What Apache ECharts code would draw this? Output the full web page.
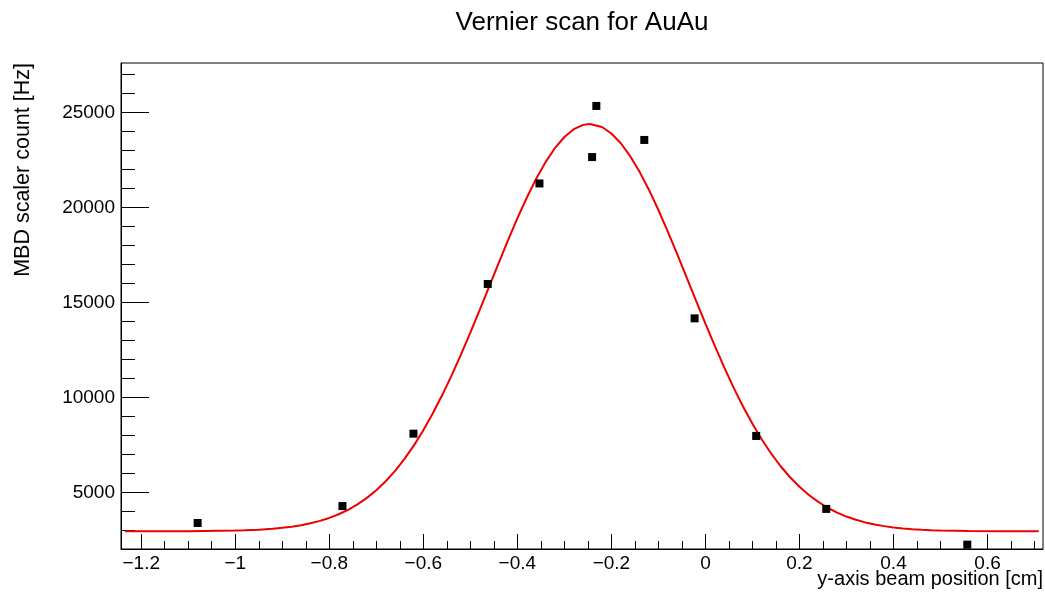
<!DOCTYPE html>
<html>
<head>
<meta charset="utf-8">
<script src="https://cdn.jsdelivr.net/npm/echarts@6/dist/echarts.min.js"></script>
<style>
html,body{margin:0;padding:0;background:#fff;}
#chart{width:1045px;height:593px;}
</style>
</head>
<body>
<div id="chart"></div>
<script>
// ---- data ----
const chartTitle = 'Vernier scan for AuAu';
const xTitle = 'y-axis beam position [cm]';
const yTitle = 'MBD scaler count [Hz]';

const scanX = [-1.080, -0.772, -0.621, -0.463, -0.353, -0.241, -0.232, -0.130, -0.023, 0.108, 0.257, 0.557];
const scanY = [3390, 4280, 8090, 15970, 21260, 22650, 25340, 23550, 14160, 7970, 4130, 2250];

// fitted curve
const fitX = [-1.234, -1.10, -1.00, -0.98, -0.95, -0.92, -0.90, -0.88, -0.86, -0.84, -0.82, -0.80, -0.78, -0.76, -0.74, -0.72, -0.70, -0.68, -0.66, -0.64, -0.62, -0.60, -0.58, -0.56, -0.54, -0.52, -0.50, -0.48, -0.46, -0.44, -0.42, -0.40, -0.38, -0.36, -0.34, -0.32, -0.30, -0.28, -0.26, -0.246, -0.22, -0.20, -0.18, -0.16, -0.14, -0.12, -0.10, -0.08, -0.06, -0.04, -0.02, 0.00, 0.02, 0.04, 0.06, 0.08, 0.10, 0.12, 0.14, 0.16, 0.18, 0.20, 0.22, 0.24, 0.26, 0.28, 0.30, 0.32, 0.34, 0.36, 0.38, 0.40, 0.42, 0.44, 0.46, 0.48, 0.50, 0.56, 0.63, 0.709];
const fitY = [2950, 2956, 2988, 3004, 3036, 3087, 3134, 3195, 3273, 3373, 3499, 3655, 3849, 4084, 4370, 4710, 5115, 5587, 6136, 6762, 7474, 8269, 9148, 10109, 11147, 12251, 13408, 14609, 15831, 17055, 18260, 19418, 20507, 21505, 22383, 23123, 23706, 24116, 24343, 24390, 24229, 23891, 23376, 22696, 21871, 20919, 19864, 18728, 17542, 16322, 15096, 13887, 12707, 11580, 10516, 9523, 8610, 7781, 7036, 6376, 5797, 5296, 4865, 4498, 4191, 3938, 3728, 3557, 3420, 3310, 3224, 3156, 3104, 3064, 3034, 3011, 2994, 2966, 2953, 2951];

const xTickLabels = [-1.2, -1, -0.8, -0.6, -0.4, -0.2, 0, 0.2, 0.4, 0.6];
const yTickLabels = [5000, 10000, 15000, 20000, 25000];

const X_MIN = -1.243, X_MAX = 0.718;
const Y_MIN = 2020, Y_MAX = 27600;

// minor ticks (4 subdivisions in x, 5 in y)
const xMinor = [];
for (let i = -1.25; i <= 0.75 + 1e-9; i += 0.05) {
  const v = Math.round(i * 100) / 100;
  if (v > X_MIN && v < X_MAX) xMinor.push(v);
}
const yMinor = [];
for (let v = 3000; v < Y_MAX; v += 1000) yMinor.push(v);

const FONT = "'Liberation Sans', Arial, Helvetica, sans-serif";

const fmtX = v => {
  const r = Math.round(v * 100) / 100;
  return (r < 0 ? '\u2212' : '') + String(Math.abs(r));
};
const fmtY = v => String(Math.round(v));

const chart = echarts.init(document.getElementById('chart'), null, {renderer: 'canvas'});
chart.setOption({
  animation: false,
  backgroundColor: '#fff',
  textStyle: {fontFamily: FONT},
  grid: {
    left: 121, right: 2, top: 63, bottom: 44,
    show: true, borderColor: '#000', borderWidth: 1,
    outerBoundsMode: 'none'
  },
  xAxis: [
    {
      type: 'value', min: X_MIN, max: X_MAX, position: 'bottom',
      axisLine: {show: true, onZero: false, lineStyle: {color: '#000', width: 1}},
      axisTick: {show: true, inside: true, length: 15, customValues: xTickLabels, lineStyle: {color: '#000', width: 1}},
      axisLabel: {customValues: xTickLabels, formatter: fmtX, fontSize: 19, color: '#000', margin: 5, fontFamily: FONT},
      splitLine: {show: false}
    },
    {
      type: 'value', min: X_MIN, max: X_MAX, position: 'bottom',
      axisLine: {show: false, onZero: false},
      axisTick: {show: true, inside: true, length: 8, customValues: xMinor, lineStyle: {color: '#000', width: 1}},
      axisLabel: {show: false},
      splitLine: {show: false}
    }
  ],
  yAxis: [
    {
      type: 'value', min: Y_MIN, max: Y_MAX, position: 'left',
      axisLine: {show: true, onZero: false, lineStyle: {color: '#000', width: 1}},
      axisTick: {show: true, inside: true, length: 28, customValues: yTickLabels, lineStyle: {color: '#000', width: 1}},
      axisLabel: {customValues: yTickLabels, formatter: fmtY, fontSize: 19, color: '#000', margin: 6, fontFamily: FONT},
      splitLine: {show: false}
    },
    {
      type: 'value', min: Y_MIN, max: Y_MAX, position: 'left',
      axisLine: {show: false, onZero: false},
      axisTick: {show: true, inside: true, length: 14, customValues: yMinor, lineStyle: {color: '#000', width: 1}},
      axisLabel: {show: false},
      splitLine: {show: false}
    }
  ],
  series: [
    {
      name: 'fit', type: 'line', xAxisIndex: 0, yAxisIndex: 0,
      data: fitX.map((x, i) => [x, fitY[i]]),
      showSymbol: false, smooth: false,
      lineStyle: {color: '#ee0000', width: 2},
      z: 2
    },
    {
      name: 'scan', type: 'scatter', xAxisIndex: 0, yAxisIndex: 0,
      data: scanX.map((x, i) => [x, scanY[i]]),
      symbol: 'rect', symbolSize: 8,
      itemStyle: {color: '#000', opacity: 1},
      z: 3
    }
  ],
  graphic: [
    {type: 'text', x: 582, y: 23, style: {text: chartTitle, fontSize: 26, fontFamily: FONT, fill: '#000', textAlign: 'center', textVerticalAlign: 'middle'}},
    {type: 'text', x: 1043, y: 579, style: {text: xTitle, fontSize: 20, fontFamily: FONT, fill: '#000', textAlign: 'right', textVerticalAlign: 'middle'}},
    {type: 'text', x: 23, y: 63, rotation: Math.PI / 2, style: {text: yTitle, fontSize: 21.5, fontFamily: FONT, fill: '#000', textAlign: 'right', textVerticalAlign: 'middle'}}
  ]
});
</script>
</body>
</html>
